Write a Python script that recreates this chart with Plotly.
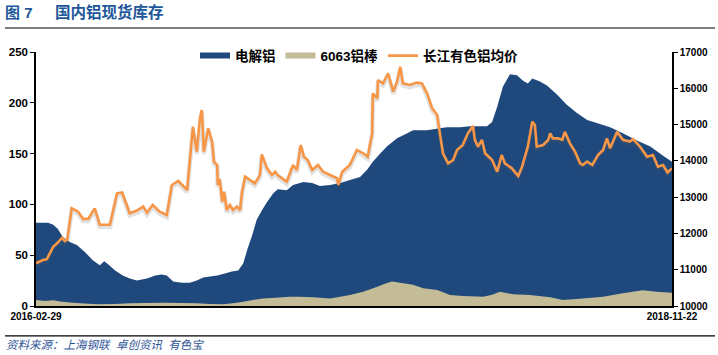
import pandas as pd
import plotly.graph_objects as go

START = "2016-02-29"
END = "2018-11-22"

# 电解铝 (days since start, 万吨)
al_days = [0, 19, 27, 34, 42, 53, 64, 77, 89, 100, 107, 113, 124, 136, 147, 158, 174, 187, 197, 205,
           215, 229, 241, 252, 262, 273, 284, 296, 307, 317, 325, 331, 339, 346, 354, 362, 372, 379,
           393, 403, 419, 433, 445, 461, 477, 492, 508, 519, 528, 535, 550, 566, 582, 591, 613, 633,
           644, 665, 680, 707, 715, 723, 732, 743, 754, 763, 771, 778, 790, 801, 817, 832, 848, 864,
           879, 900, 920, 942, 963, 983, 997]
al_vals = [82, 82, 80, 76, 68, 63, 60, 53, 45, 40, 44, 41, 35, 30, 27, 25, 27, 30, 31, 30,
           24, 23, 23, 25, 28, 29, 30, 32, 34, 35, 42, 55, 70, 85, 94, 102, 111, 115,
           114, 119, 122, 121, 118, 119, 121, 124, 127, 134, 142, 147, 157, 165, 170, 173, 173, 175,
           176, 176, 177, 177, 181, 196, 216, 228, 227, 222, 219, 224, 221, 217, 208, 198, 190, 183,
           180, 176, 170, 163, 157, 148, 142]

# 6063铝棒
bar_days = [0, 14, 27, 38, 53, 69, 96, 124, 147, 171, 199, 226, 252, 273, 293, 312, 325, 340, 356,
            375, 398, 414, 434, 461, 477, 492, 513, 535, 547, 558, 571, 591, 607, 629, 649, 669, 701,
            715, 727, 748, 774, 806, 826, 857, 889, 920, 951, 973, 997]
bar_vals = [6, 5, 5.6, 4.5, 3.5, 2.6, 1.6, 2, 2.6, 3, 3.3, 3, 2.6, 2, 1.6, 3, 4.3, 6, 7.5,
            8, 9, 9, 8.5, 7.5, 9, 10.8, 14, 19, 22, 24, 23, 21, 17.4, 15.7, 10.8, 9.8, 9.2,
            11, 14, 11.5, 10.8, 8.5, 5.9, 7.5, 9.2, 12.5, 15.5, 14, 13]

# 长江有色铝均价 (元/吨)
px_days = [0, 11, 17, 27, 33, 41, 45, 49, 56, 66,
           74, 82, 92, 100, 116, 127, 135, 147, 158, 168,
           174, 183, 194, 205, 213, 223, 237, 241, 246, 252,
           257, 260, 263, 270, 276, 279, 284, 285, 288, 292,
           295, 299, 304, 309, 315, 320, 323, 328, 335, 343,
           351, 354, 362, 370, 375,
           379, 393, 403, 409, 415, 420, 426, 433, 442, 450,
           461, 472, 474, 480, 492, 503, 513, 520, 527, 528,
           535, 536, 544, 552, 560, 566, 571, 575, 586, 597,
           605, 613, 621, 629, 633, 638, 646, 654, 660, 669,
           677, 685, 688, 693, 699, 704, 715, 723, 730, 735,
           746, 756, 762, 771, 778, 782, 785, 795, 803, 806,
           810, 818, 825, 829, 837, 845, 853, 857, 864, 872,
           881, 889, 895, 900, 911, 920, 931, 936, 947, 958,
           967, 975, 983, 990, 997]
px_vals = [11177, 11268, 11290, 11634, 11727, 11880, 11790, 11830, 12692, 12600,
           12400, 12400, 12692, 12240, 12240, 13106, 13130, 12555, 12630, 12740,
           12575, 12784, 12600, 12508, 13335, 13445, 13197, 13977, 14942, 14253,
           15172, 15402, 14253, 14897, 14529, 13977, 13886, 13335, 13500, 12876,
           13150, 12646, 12784, 12646, 12740, 12646, 13150, 13564, 13470, 13380,
           13610, 14180, 13800, 13610, 13700,
           13610, 13426, 13886, 13748, 14437, 14115, 14024, 13748, 13886, 13700,
           13610, 13520, 13335, 13700, 13886, 14300, 14208, 14115, 14760, 15862,
           15720, 16228, 16136, 16413, 15908, 16183, 16595, 16136, 16090, 16160,
           16136, 15862, 15448, 15264, 14760, 14208, 13932, 14024, 14300, 14437,
           14760, 14960, 14580, 14390, 14580, 14208, 14024, 13700, 14161, 13932,
           13794, 13583, 13840, 14390, 15080, 14990, 14390, 14437, 14580, 14760,
           14620, 14620, 14580, 14800, 14483, 14253, 13932, 13886, 13977, 13886,
           14161, 14300, 14620, 14345, 14805, 14580, 14530, 14600, 14390, 14115,
           14161, 13840, 13886, 13680, 13794]

y1_ticks = [0, 50, 100, 150, 200, 250]
y2_ticks = [10000, 11000, 12000, 13000, 14000, 15000, 16000, 17000]
x_ticks = [START, END]
Y1_RANGE = [0, 250]
Y2_RANGE = [10000, 17000]
SHADOW_SHIFT = 60  # drop shadow offset of the price line, in price units


def to_dates(days):
    return pd.Timestamp(START) + pd.to_timedelta(days, unit="D")


BLUE = "#1F497D"
BEIGE = "#C4BC96"
ORANGE = "#F79646"
FONT = "Liberation Sans, Noto Sans CJK SC, sans-serif"

fig = go.Figure()
fig.add_trace(go.Scatter(x=to_dates(al_days), y=al_vals, name="电解铝", mode="none",
                         fill="tozeroy", fillcolor=BLUE))
fig.add_trace(go.Scatter(x=to_dates(bar_days), y=bar_vals, name="6063铝棒", mode="none",
                         fill="tozeroy", fillcolor=BEIGE))
# soft shadow under the price line
fig.add_trace(go.Scatter(x=to_dates(px_days), y=px_vals, mode="lines", showlegend=False,
                         hoverinfo="skip", line=dict(color="rgba(90,90,90,0.18)", width=4.5),
                         yaxis="y2"))
fig.add_trace(go.Scatter(x=to_dates(px_days), y=px_vals, name="长江有色铝均价", mode="lines",
                         line=dict(color=ORANGE, width=2.6), yaxis="y3"))

fig.update_layout(
    width=718, height=355,
    margin=dict(l=36, r=46, t=52, b=49, autoexpand=False),
    paper_bgcolor="white", plot_bgcolor="white",
    font=dict(family=FONT, color="black"),
    showlegend=True,
    legend=dict(orientation="h", x=0.25, xanchor="left", y=0.985, yanchor="middle",
                font=dict(size=13.5, family=FONT, color="black", weight="bold"),
                bgcolor="rgba(0,0,0,0)", itemwidth=30, tracegroupgap=0),
    xaxis=dict(type="date", range=[START, END], tickvals=x_ticks, ticktext=x_ticks,
               showline=True, linecolor="black", linewidth=1.5, ticks="", showgrid=False,
               zeroline=False, automargin=False, tickfont=dict(size=10, weight="bold")),
    yaxis=dict(range=Y1_RANGE, tickvals=y1_ticks, showline=True, linecolor="black", linewidth=1.5,
               ticks="outside", ticklen=4, tickcolor="black", showgrid=False, zeroline=False,
               automargin=False, tickfont=dict(size=11.5, weight="bold")),
    yaxis2=dict(range=[Y2_RANGE[0] + SHADOW_SHIFT, Y2_RANGE[1] + SHADOW_SHIFT],
                overlaying="y", side="right", visible=False, automargin=False),
    yaxis3=dict(range=Y2_RANGE, tickvals=y2_ticks, ticktext=[str(v) for v in y2_ticks],
                overlaying="y", side="right",
                showline=True, linecolor="black", linewidth=1.5, ticks="outside", ticklen=4,
                tickcolor="black", showgrid=False, zeroline=False, automargin=False,
                tickfont=dict(size=10, weight="bold")),
)

title_color = "#1E5799"
fig.add_annotation(text="图 7", xref="paper", yref="paper", x=-0.0525, y=1.157,
                   xanchor="left", yanchor="middle", showarrow=False,
                   font=dict(size=15, color=title_color, weight="bold", family=FONT))
fig.add_annotation(text="国内铝现货库存", xref="paper", yref="paper", x=0.027, y=1.157,
                   xanchor="left", yanchor="middle", showarrow=False,
                   font=dict(size=15.5, color=title_color, weight="bold", family=FONT))
fig.add_annotation(text="<i>资料来源：上海钢联  卓创资讯  有色宝</i>", xref="paper", yref="paper",
                   x=-0.05, y=-0.1535, xanchor="left", yanchor="middle", showarrow=False,
                   font=dict(size=11.5, color="#2F5597", family=FONT))
fig.add_shape(type="line", xref="paper", yref="paper", x0=-0.0487, x1=1.0676, y0=1.0945, y1=1.0945,
              line=dict(color="black", width=1.2))
fig.add_shape(type="line", xref="paper", yref="paper", x0=-0.0487, x1=1.0676, y0=-0.118, y1=-0.118,
              line=dict(color="black", width=1.2))

fig.write_html("out.html", config={"displayModeBar": False},
               post_script="document.body.style.margin='0';document.body.style.overflow='hidden';")
